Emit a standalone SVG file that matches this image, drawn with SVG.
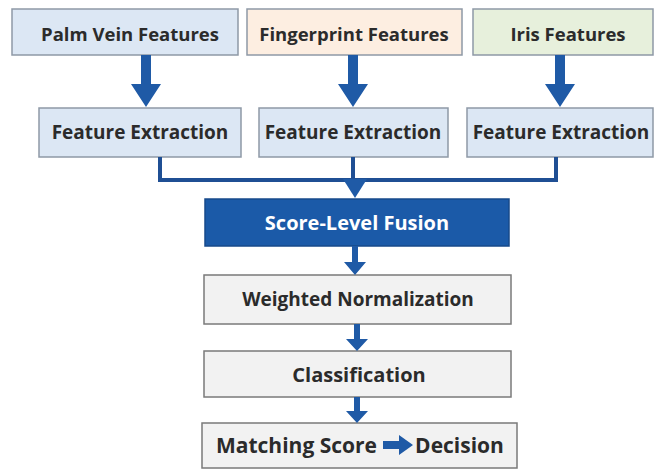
<svg xmlns="http://www.w3.org/2000/svg" width="655" height="470" viewBox="0 0 655 470">
<style>
.box{stroke:#8e99a6;stroke-width:1.5}
.lbl{font-family:"Open Sans",Lato,"Liberation Sans",sans-serif;font-weight:bold;font-size:18.5px;fill:#2b2b2b;text-anchor:middle;dominant-baseline:central}
.fe{font-size:19px}
.big{font-size:20px}
.blue{fill:#dce7f4}
.gray{fill:#f2f2f2;stroke:#7a7a7a}
.conn{fill:#1f5aa6}
.line{fill:none;stroke:#1f4f94;stroke-width:4}
</style>
<rect width="655" height="470" fill="#ffffff"/>
<g id="palm"><rect class="box blue" x="12" y="9" width="226" height="46"/><text class="lbl" x="130" y="33">Palm Vein Features</text></g>
<g id="finger"><rect class="box" fill="#fdeee1" stroke="#e0c8b0" x="247" y="9" width="215" height="46"/><text class="lbl" x="354" y="33">Fingerprint Features</text></g>
<g id="iris"><rect class="box" fill="#e7f0dc" x="473" y="9" width="180" height="46"/><text class="lbl" x="568" y="33">Iris Features</text></g>
<g id="fe1"><rect class="box blue" x="39" y="108" width="202" height="49"/><text class="lbl fe" x="140" y="132">Feature Extraction</text></g>
<g id="fe2"><rect class="box blue" x="259" y="108" width="189" height="49"/><text class="lbl fe" x="353" y="132">Feature Extraction</text></g>
<g id="fe3"><rect class="box blue" x="467" y="108" width="186" height="49"/><text class="lbl fe" x="561" y="132">Feature Extraction</text></g>
<g id="fusion"><rect x="205" y="199" width="304" height="47" fill="#1b5aa8" stroke="#174a8a" stroke-width="1.5"/><text class="lbl big" x="357" y="222" style="fill:#ffffff">Score-Level Fusion</text></g>
<g id="norm"><rect class="box gray" x="204" y="275" width="307" height="49"/><text class="lbl fe" x="358" y="299">Weighted Normalization</text></g>
<g id="classify"><rect class="box gray" x="204" y="351" width="307" height="46"/><text class="lbl big" x="359" y="374">Classification</text></g>
<g id="decision"><rect class="box gray" x="202" y="423" width="315" height="45"/>
<text class="lbl" x="296.5" y="445" style="font-size:21px">Matching Score</text>
<path class="conn" d="M383,441 H399 V435 L413,445 L399,455 V449 H383 Z"/>
<text class="lbl" x="459.5" y="445" style="font-size:21px">Decision</text></g>
<g id="connectors">
<path class="conn" d="M141,55 H151 V84 H161 L146,107 L131,84 H141 Z"/>
<path class="conn" d="M348,55 H358 V84 H368 L353,107 L338,84 H348 Z"/>
<path class="conn" d="M555,55 H565 V84 H575 L560,107 L545,84 H555 Z"/>
<path class="line" d="M160,157 V180 H556 V157 M353,157 V180"/>
<path class="conn" d="M343,179 H367 L355,198 Z"/>
<path class="conn" d="M352,246 H358 V262 H366 L355,275 L344,262 H352 Z"/>
<path class="conn" d="M354,324 H360 V339 H368 L357,351 L346,339 H354 Z"/>
<path class="conn" d="M354,397 H360 V411 H368 L357,423 L346,411 H354 Z"/>
</g>
</svg>
